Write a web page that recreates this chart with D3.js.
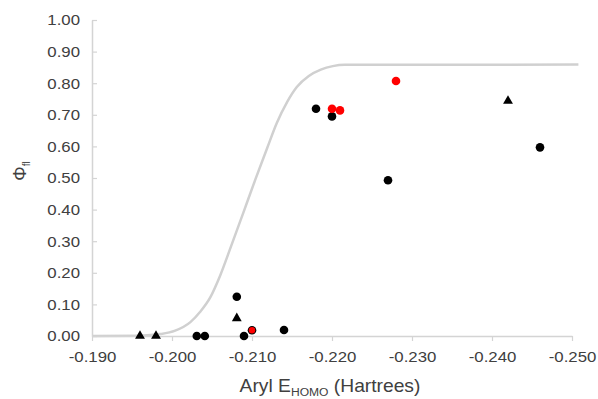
<!DOCTYPE html>
<html>
<head>
<meta charset="utf-8">
<script src="https://cdn.jsdelivr.net/npm/d3@7"></script>
<style>
  body { margin: 0; background: #fff; }
  text { font-family: "Liberation Sans", Arial, sans-serif; fill: #404040; }
</style>
</head>
<body>
<svg width="598" height="399" viewBox="0 0 598 399"></svg>
<script>
// x ticks and y ticks
const xTicks = [-0.190, -0.200, -0.210, -0.220, -0.230, -0.240, -0.250];
const yTicks = [0, 0.1, 0.2, 0.3, 0.4, 0.5, 0.6, 0.7, 0.8, 0.9, 1.0];

// black circles
const circleX = [-0.2031, -0.2041, -0.2081, -0.2090, -0.2100, -0.2140, -0.2180, -0.2200, -0.2270, -0.2460];
const circleY = [0.000, 0.000, 0.124, 0.000, 0.018, 0.019, 0.719, 0.695, 0.493, 0.597];

// black triangles
const triX = [-0.1960, -0.1980, -0.2081, -0.2420];
const triY = [0.000, 0.000, 0.056, 0.744];

// red circles
const redX = [-0.2100, -0.2200, -0.2210, -0.2280];
const redY = [0.018, 0.719, 0.714, 0.807];

// grey fitted curve
const fitX = [-0.1900, -0.1960, -0.1985, -0.2004, -0.2023, -0.2035, -0.2048, -0.2060, -0.2074, -0.2089,
              -0.2104, -0.2119, -0.2131, -0.2144, -0.2156, -0.2171, -0.2186, -0.2201, -0.2216, -0.2285, -0.2508];
const fitY = [0.000, 0.001, 0.006, 0.017, 0.044, 0.076, 0.123, 0.190, 0.285, 0.389,
              0.494, 0.595, 0.674, 0.741, 0.788, 0.823, 0.843, 0.854, 0.858, 0.858, 0.859];

const svg = d3.select("svg");
const margin = { left: 92, right: 26, top: 20, bottom: 63 };
const width = 598, height = 399;

const x = d3.scaleLinear().domain([-0.190, -0.250]).range([margin.left, width - margin.right]);
const y = d3.scaleLinear().domain([0, 1]).range([height - margin.bottom, margin.top]);

// stretch text a little horizontally, the source image is wider than it is tall
const stretch = (sel, k = 1.12) => sel.each(function () {
    const t = d3.select(this);
    const x0 = +t.attr("x") || 0;
    t.attr("transform", `translate(${x0},0) scale(${k},1) translate(${-x0},0)`);
});

// curve
svg.append("path")
    .datum(fitX.map((d, i) => [d, fitY[i]]))
    .attr("fill", "none")
    .attr("stroke", "#d0d0d0")
    .attr("stroke-width", 2.5)
    .attr("d", d3.line().x(d => x(d[0])).y(d => y(d[1])).curve(d3.curveMonotoneX));

// axes
const xAxis = svg.append("g")
    .attr("transform", `translate(0,${y(0)})`)
    .call(d3.axisBottom(x).tickValues(xTicks).tickSize(5).tickSizeOuter(0).tickPadding(10).tickFormat(d => d.toFixed(3)));
const yAxis = svg.append("g")
    .attr("transform", `translate(${x(-0.190)},0)`)
    .call(d3.axisLeft(y).tickValues(yTicks).tickSize(-5).tickSizeOuter(0).tickPadding(12).tickFormat(d => d.toFixed(2)));

[xAxis, yAxis].forEach(g => {
    g.select(".domain").attr("stroke", "#d4d4d4").attr("stroke-width", 1.5);
    g.selectAll(".tick line").attr("stroke", "#d4d4d4").attr("stroke-width", 1.2);
    g.selectAll(".tick text").attr("font-size", 15).attr("font-family", null).attr("fill", "#404040");
    stretch(g.selectAll(".tick text"));
});
xAxis.selectAll(".tick text").attr("dy", "0.75em");

// markers
svg.append("g").selectAll("circle")
    .data(circleX.map((d, i) => [d, circleY[i]]))
    .join("circle")
    .attr("cx", d => x(d[0])).attr("cy", d => y(d[1]))
    .attr("r", 4.3).attr("fill", "#000");

svg.append("g").selectAll("path")
    .data(triX.map((d, i) => [d, triY[i]]))
    .join("path")
    .attr("transform", d => `translate(${x(d[0])},${y(d[1])})`)
    .attr("d", d3.symbol(d3.symbolTriangle, 42))
    .attr("fill", "#000");

svg.append("g").selectAll("circle")
    .data(redX.map((d, i) => [d, redY[i]]))
    .join("circle")
    .attr("cx", d => x(d[0])).attr("cy", d => y(d[1]))
    .attr("r", d => d[1] < 0.1 ? 3.2 : 4.3).attr("fill", "#ff0000");

// axis titles
const xt = svg.append("text")
    .attr("x", 330).attr("y", 392)
    .attr("text-anchor", "middle")
    .attr("font-size", 17.5);
xt.append("tspan").text("Aryl E");
xt.append("tspan").attr("font-size", 11).attr("dy", 4).text("HOMO");
xt.append("tspan").attr("dy", -4).text(" (Hartrees)");
stretch(xt, 1.1);

const yt = svg.append("text")
    .attr("transform", "translate(26,171) rotate(-90)")
    .attr("text-anchor", "middle")
    .attr("font-size", 18);
yt.append("tspan").text("Φ");
yt.append("tspan").attr("font-size", 10).attr("dy", 4).text("fl");
</script>
</body>
</html>
